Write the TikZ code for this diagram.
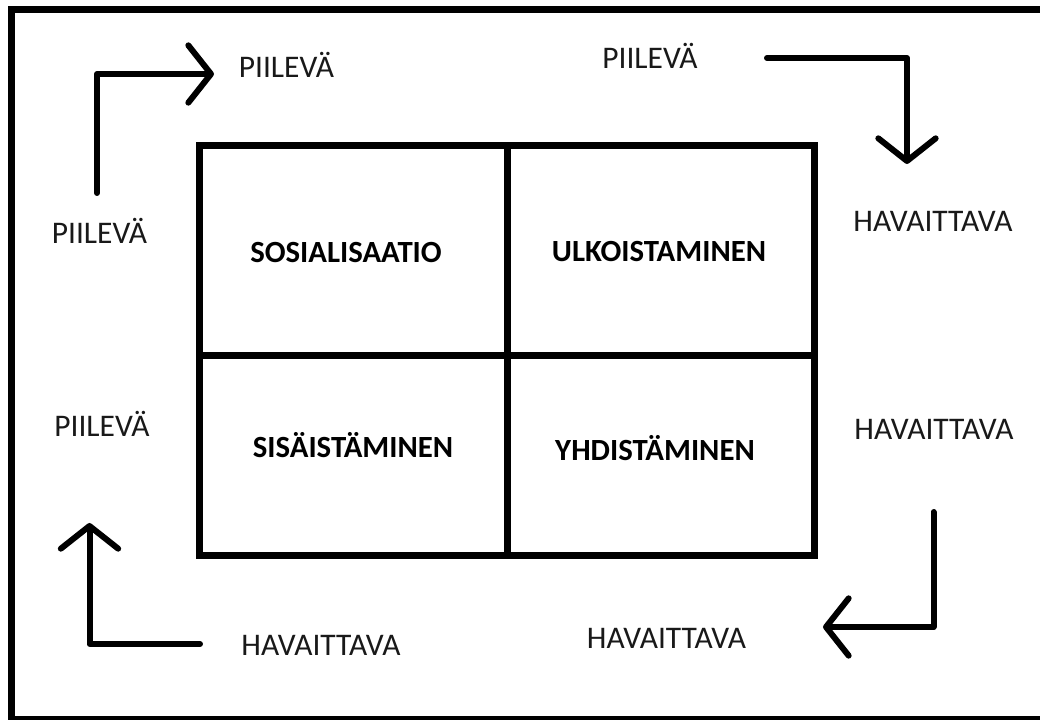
\documentclass[tikz,border=0pt]{standalone}
\usepackage{fontspec}
\setmainfont{Carlito}
\usetikzlibrary{arrows.meta,positioning}

\begin{document}
\begin{tikzpicture}[x=0.75pt,y=-0.75pt,
    every node/.style={inner sep=0pt,font=\fontsize{23.6}{28}\selectfont},
    side/.style={anchor=base,text=black!90},
    cellname/.style={anchor=base,font=\fontsize{23.1}{28}\selectfont\bfseries},
    frame/.style={line width=5.25pt},
    turn/.style={line width=4.5pt,line cap=round,line join=round,
      -{Straight Barb[length=17pt,width=43pt,round]}}]
        \useasboundingbox (0,0) rectangle (1040,720);
        \fill [white] (0,0) rectangle (1040,720);
        \clip (0,0) rectangle (1040,720);
        % outer frame, cut off on the right
        \draw [frame] (11,9.5) rectangle (1060,719.5);
        % the four cells
        \coordinate (tl) at (199.5,146);
        \coordinate (br) at (814,555);
        \coordinate (mid) at (507,356);
        \draw [frame] (tl) rectangle (br);
        \draw [frame] (tl -| mid) -- (br -| mid);
        \draw [frame] (tl |- mid) -- (br |- mid);
        \node [cellname] (sos) at (346,263) {SOSIALISAATIO};
        \node [cellname] (ulk) at (659,262) {ULKOISTAMINEN};
        \node [cellname] (sis) at (353,458) {SISÄISTÄMINEN};
        \node [cellname] (yhd) at (655,460) {YHDISTÄMINEN};
        % labels round the table
        \node [side] (p1) at (286.5,78) {PIILEVÄ};
        \node [side] (p2) at (650,69) {PIILEVÄ};
        \node [side] (h1) at (933,232) {HAVAITTAVA};
        \node [side] (p3) at (99.5,244) {PIILEVÄ};
        \node [side] (p4) at (102,437) {PIILEVÄ};
        \node [side] (h2) at (934,440) {HAVAITTAVA};
        \node [side] (h3) at (321,655) {HAVAITTAVA};
        \node [side] (h4) at (666.5,648) {HAVAITTAVA};
        % bent arrows
        \coordinate (a1) at (97,193);
        \coordinate (b1) at (214,74);
        \coordinate (a2) at (767,58);
        \coordinate (b2) at (907,164);
        \coordinate (a3) at (933.5,512);
        \coordinate (b3) at (823,627);
        \coordinate (a4) at (200,644);
        \coordinate (b4) at (89.5,523);
        \draw [turn] (a1) |- (b1);
        \draw [turn] (a2) -| (b2);
        \draw [turn] (a3) |- (b3);
        \draw [turn] (a4) -| (b4);
\end{tikzpicture}
\end{document}
